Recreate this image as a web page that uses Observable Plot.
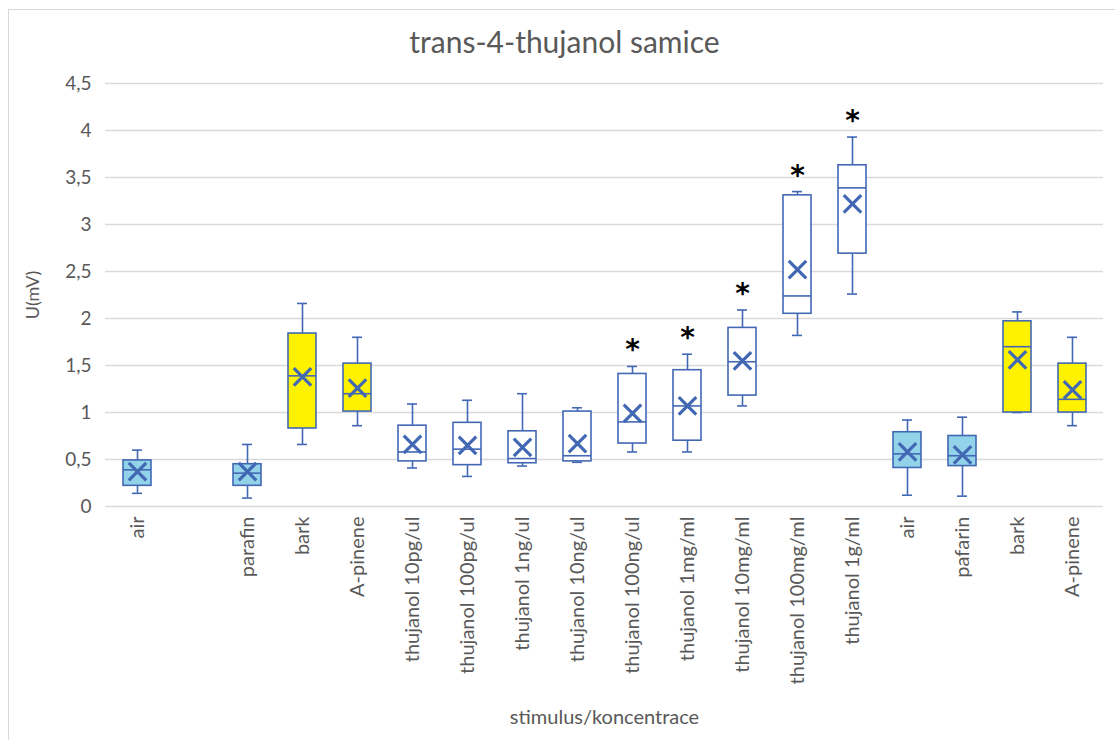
<!DOCTYPE html>
<html><head><meta charset="utf-8">
<script src="https://cdn.jsdelivr.net/npm/d3@7"></script>
<script src="https://cdn.jsdelivr.net/npm/@observablehq/plot@0.6"></script>
<style>
body{margin:0;background:#fff;width:1115px;height:740px;overflow:hidden;position:relative;font-family:Lato,"Open Sans",sans-serif;}
#frame{position:absolute;left:8px;top:9px;width:1200px;height:800px;border-left:1px solid #d9d9d9;border-top:1px solid #d9d9d9;pointer-events:none}
#title{height:60px;width:1115px;box-sizing:border-box;padding-left:14px;padding-top:24px;text-align:center;font-size:30px;color:#595959;line-height:34px;white-space:nowrap}
#chart svg{display:block}
</style></head>
<body>
<div id="frame"></div>
<div id="title">trans-4-thujanol samice</div>
<div id="chart"></div>
<script>
const labels = ["air","","parafin","bark","A-pinene","thujanol 10pg/ul","thujanol 100pg/ul","thujanol 1ng/ul","thujanol 10ng/ul","thujanol 100ng/ul","thujanol 1mg/ml","thujanol 10mg/ml","thujanol 100mg/ml","thujanol 1g/ml","air","pafarin","bark","A-pinene"];
const group = ["control","","control","reference","reference","thujanol","thujanol","thujanol","thujanol","thujanol","thujanol","thujanol","thujanol","thujanol","control","control","reference","reference"];
const whiskerLow  = [0.14,null,0.09,0.66,0.86,0.41,0.32,0.43,0.47,0.58,0.58,1.07,1.82,2.26,0.12,0.11,1.00,0.86];
const quartile1   = [0.22,null,0.22,0.83,1.01,0.48,0.44,0.46,0.48,0.67,0.70,1.18,2.05,2.69,0.41,0.43,1.00,1.00];
const median      = [0.39,null,0.355,1.39,1.20,0.58,0.61,0.51,0.54,0.90,1.07,1.54,2.24,3.39,0.56,0.54,1.70,1.14];
const quartile3   = [0.49,null,0.45,1.84,1.52,0.86,0.89,0.80,1.01,1.41,1.45,1.90,3.31,3.63,0.79,0.75,1.97,1.52];
const whiskerHigh = [0.60,null,0.66,2.16,1.80,1.09,1.13,1.20,1.05,1.49,1.62,2.09,3.35,3.93,0.92,0.95,2.07,1.80];
const mean        = [0.37,null,0.37,1.38,1.26,0.66,0.65,0.63,0.67,0.99,1.07,1.55,2.52,3.22,0.58,0.55,1.56,1.24];
const significant = [0,0,0,0,0,0,0,0,0,1,1,1,1,1,0,0,0,0];
const yTicks = [0,0.5,1,1.5,2,2.5,3,3.5,4,4.5];

const rows = labels.map((l,i)=>({i,label:l,group:group[i],low:whiskerLow[i],q1:quartile1[i],med:median[i],q3:quartile3[i],high:whiskerHigh[i],mean:mean[i],sig:significant[i]})).filter(d=>d.med!=null);
const stars = rows.filter(d=>d.sig===1);

const blue = "#4268B4";
const fills = {control:"#92D3EA", reference:"#FFF200", thujanol:"#FFFFFF"};
const fmt = d => String(d).replace(".",",");

const chart = Plot.plot({
  width:1115, height:680,
  marginLeft:105, marginRight:12, marginTop:23, marginBottom:234,
  style:{fontFamily:"Lato, 'Open Sans', sans-serif", color:"#595959", background:"transparent"},
  x:{type:"band", domain:d3.range(labels.length), paddingInner:0.5, paddingOuter:0.25},
  y:{domain:[0,4.5]},
  marks:[
    Plot.gridY(yTicks,{stroke:"#d9d9d9", strokeOpacity:1, strokeWidth:1.4}),
    Plot.axisY(yTicks,{tickSize:0, tickPadding:14, tickFormat:fmt, fontSize:19, label:null}),
    Plot.text(["U(mV)"],{frameAnchor:"left", textAnchor:"middle", dx:-72, rotate:-90, fontSize:18, fill:"#595959", text:d=>d}),
    Plot.axisX({tickSize:0, tickPadding:10, tickRotate:-90, tickFormat:i=>labels[i], fontSize:20, label:null}),
    Plot.text(["stimulus/koncentrace"],{frameAnchor:"bottom", dy:217, fontSize:20, fill:"#595959", text:d=>d}),
    Plot.ruleX(rows,{x:"i", y1:"low", y2:"high", stroke:blue, strokeWidth:1.6}),
    Plot.tickY(rows,{x:"i", y:"low", stroke:blue, strokeWidth:1.6, insetLeft:9, insetRight:9}),
    Plot.tickY(rows,{x:"i", y:"high", stroke:blue, strokeWidth:1.6, insetLeft:9, insetRight:9}),
    Plot.barY(rows,{x:"i", y1:"q1", y2:"q3", fill:d=>fills[d.group], stroke:blue, strokeWidth:1.6}),
    Plot.tickY(rows,{x:"i", y:"med", stroke:blue, strokeWidth:1.6}),
    Plot.dot(rows,{x:"i", y:"mean", symbol:"times", r:8, stroke:blue, strokeWidth:3.2}),
    Plot.text(stars,{x:"i", y:"high", text:()=>"*", dy:-16, fontSize:28, fontWeight:"bold", fill:"#000", stroke:"#fff", strokeWidth:4, fontFamily:"DejaVu Sans"})
  ]
});
document.getElementById("chart").appendChild(chart);
</script>
</body></html>
